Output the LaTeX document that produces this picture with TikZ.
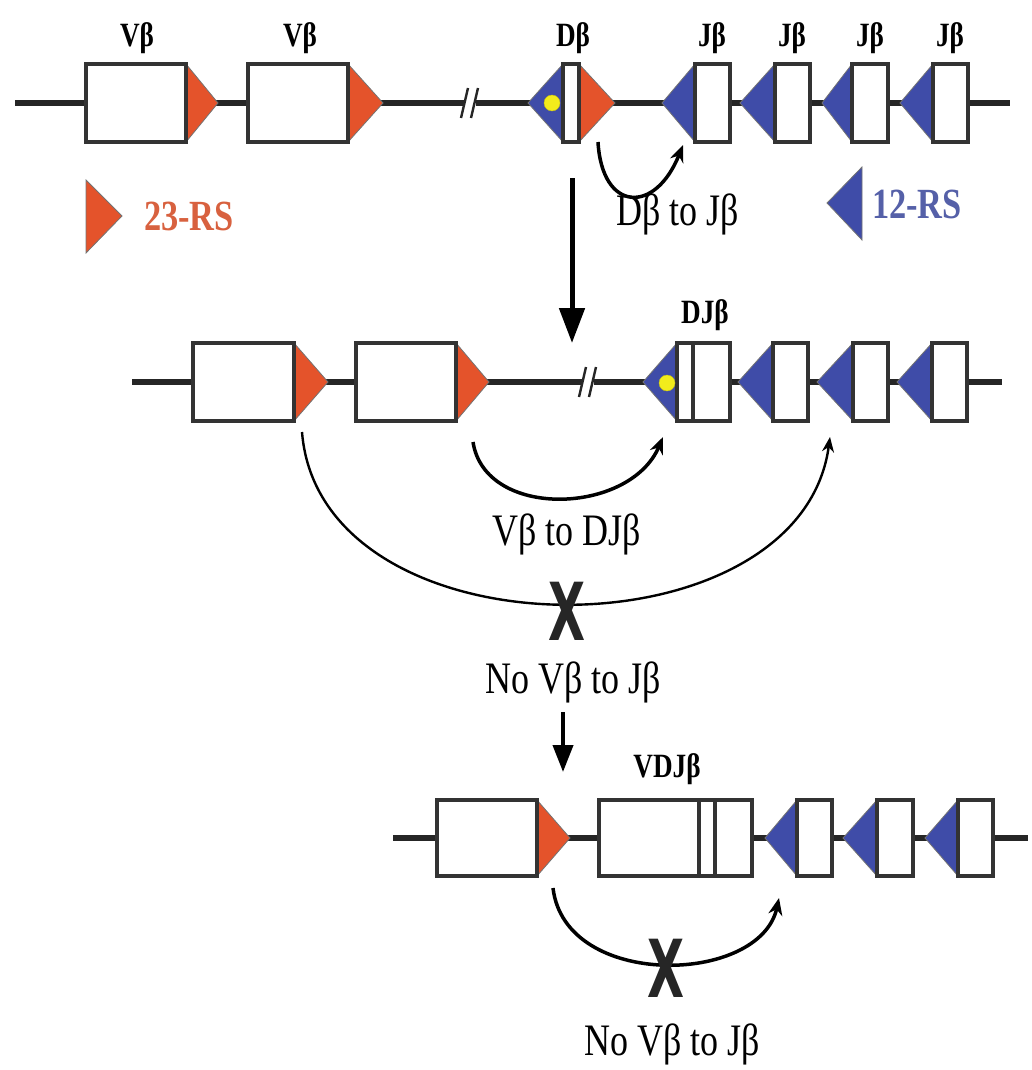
\documentclass[tikz,border=0pt]{standalone}
\usepackage{fontspec}
\setmainfont{Liberation Serif}[FakeStretch=0.8]
\newfontfamily\xfont{DejaVu Sans}[FakeStretch=0.6]
\usetikzlibrary{arrows.meta}
\definecolor{rsred}{HTML}{E4532B}
\definecolor{rsblue}{HTML}{3F4CA8}
\definecolor{lgred}{HTML}{D8613F}
\definecolor{lgblue}{HTML}{5560A8}
\definecolor{dotyel}{HTML}{F2EC1C}
\newcommand\rtri[4]{\draw[rsr] (#1,#3-#4) -- (#2,#3) -- (#1,#3+#4) -- cycle;}
\newcommand\btri[4]{\draw[rsb] (#1,#3-#4) -- (#2,#3) -- (#1,#3+#4) -- cycle;}
\newcommand\gbox[4]{\draw[seg] (#1,#3-#4) rectangle (#2,#3+#4);}
\newcommand\dslash[2]{\fill[white] (#1-6,#2-5) rectangle (#1+6,#2+5);
  \draw[line width=2.4pt,black!85] (#1-9,#2+15) -- (#1-2,#2-15);
  \draw[line width=2.4pt,black!85] (#1+1,#2+15) -- (#1+8,#2-15);}
\begin{document}
\begin{tikzpicture}[x=1pt,y=-1pt,
  backbone/.style={line width=6.5pt, draw=black!85},
  seg/.style={draw=black!80, line width=3.3pt, fill=white},
  rsr/.style={fill=rsred, draw=black!55, line width=0.8pt},
  rsb/.style={fill=rsblue, draw=black!55, line width=0.8pt},
  genelbl/.style={font=\fontsize{34}{36}\selectfont\bfseries, anchor=base, inner sep=0pt},
  txt/.style={font=\fontsize{45}{50}\selectfont, anchor=base, inner sep=0pt},
  lgd/.style={font=\fontsize{43}{46}\selectfont\bfseries, anchor=base, inner sep=0pt},
  xmark/.style={font=\xfont\bfseries\fontsize{80}{80}\selectfont, inner sep=0pt, text=black!85},
  recomb/.style={line width=3.5pt, -{Stealth[length=17pt,width=14pt]}},
  longrecomb/.style={line width=2.4pt, -{Stealth[length=15pt,width=12pt]}},
  bigdown/.style={line width=5pt, -{Triangle[length=35pt,width=25pt]}},
  smalldown/.style={line width=4pt, -{Triangle[length=27pt,width=20pt]}},
  ydot/.style={circle, fill=dotyel, draw=dotyel!80!black, line width=0.4pt, minimum size=16pt, inner sep=0pt}]
\useasboundingbox (0,0) rectangle (1031,1070);
% ================= Row 1 (germline) =================
\draw[backbone] (15,103) -- (1010,103);
\dslash{470}{103}
\rtri{186}{218}{103}{39}
\rtri{348}{383}{103}{39}
\btri{563}{528}{103}{39}
\rtri{579}{615}{103}{39}
\btri{695}{662}{103}{39}
\btri{775}{740}{103}{39}
\btri{852}{822}{103}{39}
\btri{933}{900}{103}{39}
\gbox{86}{186}{103}{39}
\gbox{248}{348}{103}{39}
\gbox{563}{579}{103}{39}
\gbox{695}{730}{103}{39}
\gbox{775}{810}{103}{39}
\gbox{852}{888}{103}{39}
\gbox{933}{968}{103}{39}
\node[ydot] (dot1) at (552,103) {};
\node[genelbl] (v1) at (137,47) {Vβ};
\node[genelbl] (v2) at (300,47) {Vβ};
\node[genelbl] (d1) at (573,47) {Dβ};
\node[genelbl] (j1) at (712,47) {Jβ};
\node[genelbl] (j2) at (792,47) {Jβ};
\node[genelbl] (j3) at (870,47) {Jβ};
\node[genelbl] (j4) at (950,47) {Jβ};
% legend
\draw[rsr] (86,180) -- (122,216) -- (86,253) -- cycle;
\node[lgd, text=lgred] (l23) at (189,230) {23-RS};
\draw[rsb] (862,167) -- (827,203) -- (862,240) -- cycle;
\node[lgd, text=lgblue] (l12) at (917,218) {12-RS};
% D to J
\coordinate (dj1) at (598,142);
\coordinate (dj2) at (683,145);
\draw[recomb] (dj1) .. controls (602,212) and (655,215) .. (dj2);
\node[txt] (tdj) at (678,225) {Dβ to Jβ};
% big down arrow
\coordinate (a1s) at (572,178);
\coordinate (a1e) at (572,343);
\draw[bigdown] (a1s) -- (a1e);
% ================= Row 2 (DJ rearranged) =================
\draw[backbone] (132,382) -- (1002,382);
\dslash{588}{382}
\rtri{294}{328}{382}{39}
\rtri{456}{489}{382}{39}
\btri{677}{643}{382}{39}
\btri{773}{738}{382}{39}
\btri{853}{817}{382}{39}
\btri{932}{897}{382}{39}
\gbox{193}{294}{382}{39}
\gbox{356}{456}{382}{39}
\gbox{677}{730}{382}{39}
\draw[draw=black!80, line width=3.3pt] (693,343) -- (693,421);
\gbox{773}{808}{382}{39}
\gbox{853}{888}{382}{39}
\gbox{932}{967}{382}{39}
\node[ydot] (dot2) at (667,383) {};
\node[genelbl] (dj) at (705,323) {DJβ};
% V to DJ
\coordinate (vd1) at (473,442);
\coordinate (vd2) at (663,437);
\draw[recomb] (vd1) .. controls (485,520) and (630,515) .. (vd2);
\node[txt] (tvd) at (567,545) {Vβ to DJβ};
% V to J (blocked)
\coordinate (vj1) at (302,432);
\coordinate (vj2) at (830,437);
\draw[longrecomb] (vj1) .. controls (320,660) and (800,660) .. (vj2);
\node[xmark] (x1) at (567,611) {X};
\node[txt] (tnvj1) at (573,693) {No Vβ to Jβ};
% small down arrow
\coordinate (a2s) at (563,712);
\coordinate (a2e) at (563,772);
\draw[smalldown] (a2s) -- (a2e);
% ================= Row 3 (VDJ rearranged) =================
\draw[backbone] (393,838) -- (1028,838);
\rtri{537}{570}{838}{38}
\btri{797}{765}{838}{38}
\btri{877}{843}{838}{38}
\btri{958}{925}{838}{38}
\gbox{437}{537}{838}{38}
\gbox{599}{752}{838}{38}
\draw[draw=black!80, line width=3.3pt] (699,800) -- (699,876);
\draw[draw=black!80, line width=3.3pt] (715,800) -- (715,876);
\gbox{797}{832}{838}{38}
\gbox{877}{913}{838}{38}
\gbox{958}{993}{838}{38}
\node[genelbl] (vdj) at (667,777) {VDJβ};
% V to J (blocked)
\coordinate (vj3) at (553,888);
\coordinate (vj4) at (779,898);
\draw[recomb] (vj3) .. controls (565,990) and (760,985) .. (vj4);
\node[xmark] (x2) at (666,968) {X};
\node[txt] (tnvj2) at (672,1055) {No Vβ to Jβ};
\end{tikzpicture}
\end{document}
